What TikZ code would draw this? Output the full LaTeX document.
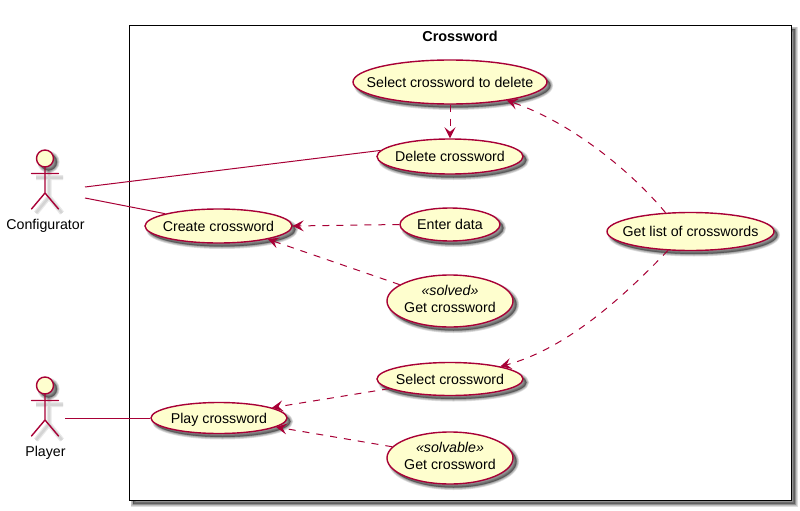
\documentclass[tikz,border=0pt]{standalone}
\usepackage{fontspec}
\setmainfont{Liberation Sans}
\usetikzlibrary{shapes.geometric,arrows.meta}
\definecolor{umlline}{HTML}{A80036}
\definecolor{umlfill}{HTML}{FEFECE}
\newcommand{\uc}[1]{\makebox[0pt]{\raisebox{-0.36em}[0pt][0pt]{#1}}}
\newcommand{\ucc}[2]{\makebox[0pt]{\raisebox{-3pt}[0pt][0pt]{\begin{tabular}{@{}c@{}}\textit{#1}\\[-0.5pt]#2\end{tabular}}}}
\tikzset{
  shadowlayer/.style={preaction={draw=black,fill=black,draw opacity=0.13,fill opacity=0.13,line width=#1,transform canvas={xshift=3.5pt,yshift=-3.5pt}}},
  softshadow/.style={shadowlayer=5pt,shadowlayer=3.5pt,shadowlayer=2pt,shadowlayer=0.7pt},
  usecase/.style n args={2}{ellipse,draw=umlline,fill=umlfill,line width=1.4pt,inner sep=0pt,
     minimum width=#1,minimum height=#2,font=\fontsize{14.2}{17}\selectfont,softshadow},
  assoc/.style={draw=umlline,line width=1pt},
  dep/.style={draw=umlline,line width=1pt,dash pattern=on 7pt off 7pt,-{Stealth[length=11pt,width=11pt,inset=4.5pt]}},
  actorlabel/.style={font=\fontsize{14.2}{17}\selectfont,inner sep=0pt},
  limb/.style={draw=umlline,line width=1.4pt,line cap=round},
  limbshadowa/.style={draw=black!9,line width=5pt},
  limbshadowb/.style={draw=black!17,line width=2.5pt}
}
\newcommand{\stickman}[2]{%
  \begin{scope}[shift={(#1,#2)}]
    \foreach \sty in {limbshadowa,limbshadowb}
      \draw[\sty] (-9,19) -- (18,19) (4,12) -- (4,39) (4,38.5) -- (-9,54.5) (4,38.5) -- (17,54.5);
    \node[circle,draw=umlline,fill=umlfill,line width=1.4pt,minimum size=17pt,inner sep=0pt,softshadow] at (0,0) {};
    \draw[limb] (-13.5,15) -- (13.5,15) (0,8.5) -- (0,34.5) (0,34.5) -- (-13.5,50.5) (0,34.5) -- (13.5,50.5);
  \end{scope}}
\begin{document}
\begin{tikzpicture}[x=1pt,y=-1pt]
\useasboundingbox (0,0) rectangle (800,511);
\node[draw=black,fill=white,line width=1.4pt,minimum width=662pt,minimum height=475pt,inner sep=0pt,anchor=north west,softshadow] (frame) at (129,25) {};
\node[font=\fontsize{14.4}{17}\selectfont\bfseries,inner sep=0pt] (title) at (460,36.5) {Crossword};

\stickman{45}{158.5}
\stickman{45}{385.5}
\node[actorlabel] (configurator) at (45.5,226) {Configurator};
\node[actorlabel] (player) at (45.5,453) {Player};
\coordinate (confA) at (85,187);
\coordinate (confB) at (85,198);
\coordinate (playA) at (65,418);

\node[usecase={194pt}{44pt}] (seldel) at (450,82) {\uc{Select crossword to delete}};
\node[usecase={146pt}{35pt}] (delete) at (450,156.5) {\uc{Delete crossword}};
\node[usecase={147pt}{34pt}] (create) at (218.5,226) {\uc{Create crossword}};
\node[usecase={100pt}{33pt}] (enter) at (450,224.5) {\uc{Enter data}};
\node[usecase={126pt}{52pt}] (solved) at (450,301) {\ucc{«solved»}{Get crossword}};
\node[usecase={167pt}{38pt}] (list) at (690.5,231.5) {\uc{Get list of crosswords}};
\node[usecase={146pt}{33pt}] (select) at (450,379) {\uc{Select crossword}};
\node[usecase={136pt}{31pt}] (play) at (219,418) {\uc{Play crossword}};
\node[usecase={126pt}{52pt}] (solvable) at (450,458) {\ucc{«solvable»}{Get crossword}};

\draw[assoc] (confA) -- (delete.175.6);
\draw[assoc] (confB) -- (create.167.8);
\draw[assoc] (playA) -- (play.west);
\draw[dep] (seldel.south) -- (delete.north);
\draw[dep] (list.143) .. controls (630,170) and (570,122) .. (seldel.-18);
\draw[dep] (list.220) .. controls (630,290) and (570,348) .. (select.14);
\draw[dep] (enter.west) -- (create.east);
\draw[dep] (solved.162.5) -- (create.-15);
\draw[dep] (select.189.3) -- (play.11);
\draw[dep] (solvable.169) -- (play.-9);
\end{tikzpicture}
\end{document}
